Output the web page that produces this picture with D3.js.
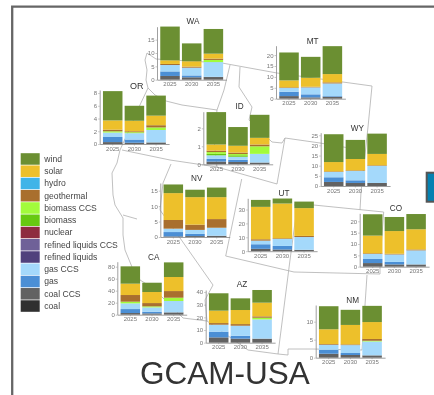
<!DOCTYPE html>
<html><head><meta charset="utf-8">
<script src="https://cdn.jsdelivr.net/npm/d3@7"></script>
<style>
html,body{margin:0;padding:0;background:#fff;overflow:hidden}
svg{display:block;filter:blur(0.45px)}
text{font-family:"Liberation Sans",Arial,sans-serif}
</style></head><body>
<div id="chart"></div>
<script>
// ---- data ----
const years = ["2025","2030","2035"];
const legendFuels = ["wind","solar","hydro","geothermal","biomass CCS","biomass","nuclear","refined liquids CCS","refined liquids","gas CCS","gas","coal CCS","coal"];
const legendColors = ["#6b8f32","#edc02b","#3fb4e8","#a96f2e","#a2fb3c","#67c911","#8e2c3f","#6f6198","#50417c","#a4d9fb","#4b8fd5","#626262","#303030"];
const stackFuels = ["coal CCS","gas","gas CCS","biomass","biomass CCS","geothermal","solar","wind"];

const WA = [[1.4,1.7,2.4,0,0,.4,1.35,12.65],[.9,.7,2.9,0,0,.4,2,6.7],[1,.1,5.5,0,.8,.5,1.85,9.25]];
const OR = [[.3,.8,.7,0,.2,.25,1.45,4.6],[.2,.5,1,0,.15,.15,1.65,2.35],[.25,0,1.95,0,.4,.35,1.5,3.15]];
const MT = [[1.2,2,1.7,0,0,.3,3.2,12.8],[.6,1.4,3.2,0,0,.3,4.1,9.6],[.9,.3,5.8,0,0,.5,3.8,12.8]];
const ID = [[.15,.15,.2,.08,.1,.08,.34,1.8],[.13,.12,.17,.08,.07,.08,.38,1.04],[.1,0,.48,0,.42,.1,.37,1.28]];
const WY = [[2,2.3,2.6,0,0,.3,4.6,13.7],[1.5,1.3,4.6,0,0,.3,5.6,9.4],[1.5,0,8.4,0,0,.3,5.6,10]];
const NV = [[.2,1.4,1.1,0,0,2.8,8.7,2.8],[.3,.7,1.3,0,0,1.7,8.9,2.4],[.4,0,2.6,0,0,2.8,7.1,3.1]];
const UT = [[1.7,3.3,2.6,0,0,1,23.3,5],[1.2,2.6,5,0,0,.5,25,3.6],[1,0,9.2,0,0,.8,20,4.7]];
const CO = [[1.6,1.8,2.2,0,0,.3,7.8,9.4],[1,1.1,3.3,0,0,.3,10,6.2],[1,0,6.2,0,0,.4,8.9,6.7]];
const NM = [[1.1,1.1,1.4,0,0,.2,4.1,6.4],[.75,.55,2.2,0,0,.2,5.4,4.2],[.65,0,3.85,0,.2,.5,4.7,4.5]];
const AZ = [[4.2,4.5,5.5,0,0,1.3,9.8,13.7],[3.2,2.3,7.9,0,0,1.3,11.1,9.2],[3.2,0,15.2,0,1.3,1.1,10.8,10]];
const CA = [[2.8,6.6,9.5,0,2.8,11.1,18.9,28.9],[2.2,2.8,7.2,0,1.7,5.5,18.4,15.5],[3.9,0,18.9,0,5.5,11.1,23.4,24.4]];

const stateNames = ["WA","OR","MT","ID","WY","NV","UT","CO","NM","AZ","CA"];
const stateValues = [WA,OR,MT,ID,WY,NV,UT,CO,NM,AZ,CA];
const stateTicks = [[0,5,10,15],[0,2,4,6,8],[0,5,10,15,20],[0,1,2],[0,5,10,15,20,25],[0,5,10,15],[0,10,20,30],[0,5,10,15,20],[0,5,10],[0,10,20,30,40],[0,20,40,60,80]];

// ---- layout (not data) ----
const W = 434, H = 395;
// axis x, baseline y, px per unit, axis top y, label x, label y (baseline), label size
const panelLayout = {
  WA:[157,79.7,2.67,26.7,193,24,8.2], OR:[99.7,144,6.37,90,136.7,89,9],
  MT:[276,98.7,2.18,45.7,312.7,43.5,8.2], ID:[203.3,164.3,18,111.7,239.7,109,8.2],
  WY:[320.7,186,2.03,132.7,357.3,131,8.2], NV:[160.3,237,3.09,183,196.7,181,8.2],
  UT:[247.7,251.2,1.39,198.3,284,195.5,8.2], CO:[359.7,266.7,2.27,213.3,396,211,8.2],
  NM:[315.7,357.7,3.6,305,352.7,302.5,8.2], AZ:[205.7,342.7,1.267,290,242,287,8.2],
  CA:[117.3,314.7,.6,261.7,153.7,259.5,8.2]
};
const panelWidth = 69.4;
// basemap state boundaries, page pixels
const boundaries = [
  [[147,53],[145,60],[147,70],[146,80],[148,88],[139,107],[130,128],[120,150],[117,163],[112,173],[113,195],[115,205],[123,218],[123,235],[125,250],[132,267],[140,280],[153,288],[163,298],[183,318],[207,321]],
  [[123,215],[130,217],[137,219]],
  [[147,53],[156,59],[222,63],[277,73],[372,86],[368,127],[361,192],[360,210]],
  [[148,88],[155,95],[166,101],[182,105],[203,108],[217,110]],
  [[230,65],[224,90],[217,110],[214,140],[217,167]],
  [[240,67],[239,87],[252,107],[249,120],[272,142],[282,143],[285,138],[320,143],[361,150]],
  [[122,150],[170,160],[217,167],[277,184],[285,138]],
  [[171,164],[163,183],[160,210],[180,238],[213,285],[205,300],[207,321],[248,350],[278,354],[288,355],[288,349],[312,349],[362,350]],
  [[241.7,179],[225.7,256],[294,272],[380,274],[380,262]],
  [[294,205],[313.7,205],[383.7,212],[380,262]],
  [[296,215],[290,260],[278,354]],
  [[367,275],[365,305],[362,350]]
];

// ---- draw ----
const svg = d3.select("#chart").append("svg").attr("width",W).attr("height",H);
svg.append("rect").attr("width",W).attr("height",H).attr("fill","#fff");

// frame
svg.append("path").attr("d","M12.2,395V6.7H434").attr("fill","none").attr("stroke","#666").attr("stroke-width",2.3);
svg.append("rect").attr("x",426.7).attr("y",172.7).attr("width",12).attr("height",29)
   .attr("fill","#0481b1").attr("stroke","#555").attr("stroke-width",2);

// basemap
const line = d3.line();
svg.append("g").selectAll("path").data(boundaries).join("path")
   .attr("d",line).attr("fill","none").attr("stroke","#b0b0b0").attr("stroke-width",.8);

// legend
const legY = d3.scaleBand().domain(legendFuels).range([153.2,311.8]).paddingInner(0.06);
const leg = svg.append("g").selectAll("g").data(legendFuels).join("g");
leg.append("rect").attr("x",20.7).attr("y",d=>legY(d)).attr("width",19).attr("height",legY.bandwidth())
   .attr("fill",(d,i)=>legendColors[i]);
leg.append("text").attr("x",44.3).attr("y",d=>legY(d)+legY.bandwidth()/2+2.9)
   .attr("font-size",8.6).attr("fill","#444").text(d=>d);

const color = d3.scaleOrdinal(legendFuels,legendColors);
const stack = d3.stack().keys(d3.range(stackFuels.length));

stateNames.forEach((name,si)=>{
  const [ax,base,ppu,top,lx,ly,ls] = panelLayout[name];
  const g = svg.append("g");
  const x = d3.scaleBand().domain(years).range([ax,ax+panelWidth]).paddingInner(0.1).paddingOuter(0.15);
  const y = d3.scaleLinear().domain([0,(base-top)/ppu]).range([base,top]);
  const series = stack(stateValues[si]);
  g.selectAll("g.s").data(series).join("g").attr("class","s")
    .attr("fill",(s,i)=>color(stackFuels[i]))
    .selectAll("rect").data(s=>s.map((d,j)=>({d,j}))).join("rect")
    .attr("x",o=>x(years[o.j])).attr("width",x.bandwidth())
    .attr("y",o=>y(o.d[1])).attr("height",o=>y(o.d[0])-y(o.d[1]));
  const gx = g.append("g").attr("transform",`translate(0,${base})`)
    .call(d3.axisBottom(x).tickSize(1.5).tickSizeOuter(0).tickPadding(1));
  const gy = g.append("g").attr("transform",`translate(${ax},0)`)
    .call(d3.axisLeft(y).tickValues(stateTicks[si]).tickFormat(d3.format("d")).tickSize(1.5).tickSizeOuter(0).tickPadding(1));
  [gx,gy].forEach(a=>{
    a.selectAll("text").attr("font-size",6).attr("fill","#777").attr("font-family",'"Liberation Sans",Arial,sans-serif');
    a.selectAll("line").attr("stroke","#888").attr("stroke-width",.5);
    a.select(".domain").attr("stroke","#888").attr("stroke-width",.8);
  });
  g.append("text").attr("x",lx).attr("y",ly).attr("text-anchor","middle")
    .attr("font-size",ls).attr("fill","#333").text(name);
});

svg.append("text").attr("x",140).attr("y",384)
   .attr("font-size",31.5).attr("fill","#333").text("GCAM-USA");
</script>
</body></html>
